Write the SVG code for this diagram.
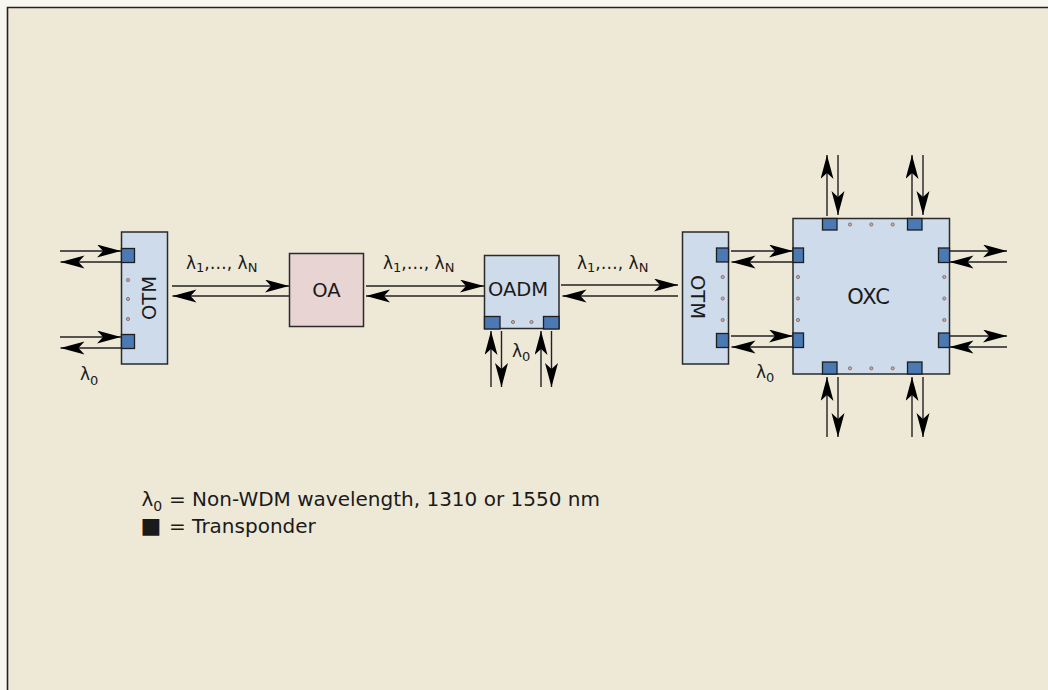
<svg xmlns="http://www.w3.org/2000/svg" width="1048" height="690" viewBox="0 0 1048 690">
<style>
.bg{fill:#eee8d7}
.box{fill:#cedbea;stroke:#2a2a2a;stroke-width:1.5}
.oa{fill:#e9d4d4;stroke:#2a2a2a;stroke-width:1.5}
.tp{fill:#4a79b4;stroke:#1e1e1e;stroke-width:1.3}
.dot{fill:#d9a3a0;stroke:#6a6a6a;stroke-width:0.8}
.ln{stroke:#222;stroke-width:1.4;fill:none}
.lbl{font-family:"DejaVu Sans",sans-serif;font-size:19.5px;fill:#1a1a1a}
.lam{font-family:"DejaVu Sans",sans-serif;font-size:17px;fill:#1a1a1a}
.leg{font-family:"DejaVu Sans",sans-serif;font-size:20px;fill:#1a1a1a}
.sub{font-size:13px}
</style>
<defs>
<marker id="ah" markerUnits="userSpaceOnUse" markerWidth="26" markerHeight="14" refX="24" refY="6.5" orient="auto">
<path d="M0,0 L24,6.5 L0,13 L6,6.5 z" fill="#000"/>
</marker>
</defs>
<rect x="0" y="0" width="1048" height="690" fill="#f7f6f1"/>
<rect class="bg" x="7.5" y="7.5" width="1045" height="690"/>
<path d="M7.5,690 L7.5,7.5 L1048,7.5" fill="none" stroke="#222" stroke-width="1.6"/>

<g id="connectors">
<line class="ln" x1="60" y1="251" x2="121" y2="251" marker-end="url(#ah)"/>
<line class="ln" x1="121" y1="262" x2="60.5" y2="262" marker-end="url(#ah)"/>
<line class="ln" x1="60" y1="337" x2="121" y2="337" marker-end="url(#ah)"/>
<line class="ln" x1="121" y1="348" x2="60.5" y2="348" marker-end="url(#ah)"/>
<line class="ln" x1="172" y1="286" x2="289" y2="286" marker-end="url(#ah)"/>
<line class="ln" x1="289" y1="296" x2="172.5" y2="296" marker-end="url(#ah)"/>
<line class="ln" x1="366" y1="286" x2="484" y2="286" marker-end="url(#ah)"/>
<line class="ln" x1="484" y1="296" x2="366" y2="296" marker-end="url(#ah)"/>
<line class="ln" x1="561" y1="285" x2="678" y2="285" marker-end="url(#ah)"/>
<line class="ln" x1="678" y1="296" x2="562.5" y2="296" marker-end="url(#ah)"/>
<line class="ln" x1="491" y1="387" x2="491" y2="331" marker-end="url(#ah)"/>
<line class="ln" x1="501.5" y1="331" x2="501.5" y2="387" marker-end="url(#ah)"/>
<line class="ln" x1="541" y1="387" x2="541" y2="331" marker-end="url(#ah)"/>
<line class="ln" x1="551.5" y1="331" x2="551.5" y2="387" marker-end="url(#ah)"/>
<line class="ln" x1="731" y1="251" x2="793" y2="251" marker-end="url(#ah)"/>
<line class="ln" x1="793" y1="262" x2="731.5" y2="262" marker-end="url(#ah)"/>
<line class="ln" x1="731" y1="336" x2="793" y2="336" marker-end="url(#ah)"/>
<line class="ln" x1="793" y1="347" x2="731.5" y2="347" marker-end="url(#ah)"/>
<line class="ln" x1="949" y1="251" x2="1007" y2="251" marker-end="url(#ah)"/>
<line class="ln" x1="1007" y1="262" x2="949.5" y2="262" marker-end="url(#ah)"/>
<line class="ln" x1="949" y1="336" x2="1007" y2="336" marker-end="url(#ah)"/>
<line class="ln" x1="1007" y1="347" x2="949.5" y2="347" marker-end="url(#ah)"/>
<line class="ln" x1="827" y1="216" x2="827" y2="155" marker-end="url(#ah)"/>
<line class="ln" x1="838" y1="155" x2="838" y2="215" marker-end="url(#ah)"/>
<line class="ln" x1="912" y1="216" x2="912" y2="155" marker-end="url(#ah)"/>
<line class="ln" x1="923" y1="155" x2="923" y2="215" marker-end="url(#ah)"/>
<line class="ln" x1="827" y1="437" x2="827" y2="377" marker-end="url(#ah)"/>
<line class="ln" x1="838" y1="377" x2="838" y2="437" marker-end="url(#ah)"/>
<line class="ln" x1="912" y1="437" x2="912" y2="377" marker-end="url(#ah)"/>
<line class="ln" x1="923" y1="377" x2="923" y2="437" marker-end="url(#ah)"/>
</g>

<g id="otm1">
<rect class="box" x="121.5" y="232" width="46" height="132"/>
<rect class="tp" x="121.5" y="248.5" width="13" height="14"/>
<rect class="tp" x="121.5" y="334.5" width="13" height="14"/>
<circle class="dot" cx="128" cy="280" r="1.6"/>
<circle class="dot" cx="128" cy="299" r="1.6"/>
<circle class="dot" cx="128" cy="319" r="1.6"/>
<text class="lbl" x="149.5" y="298" text-anchor="middle" dominant-baseline="central" transform="rotate(-90 149.5 298)">OTM</text>
</g>

<g id="oa">
<rect class="oa" x="289.5" y="253.5" width="74" height="73"/>
<text class="lbl" x="326.5" y="297" text-anchor="middle">OA</text>
</g>

<g id="oadm">
<rect class="box" x="484.5" y="255.5" width="74.5" height="73"/>
<rect class="tp" x="484.5" y="316.5" width="15.5" height="12.5"/>
<rect class="tp" x="543.5" y="316.5" width="15.5" height="12.5"/>
<circle class="dot" cx="513" cy="322" r="1.6"/>
<circle class="dot" cx="531.5" cy="322" r="1.6"/>
<text class="lbl" x="518" y="296" text-anchor="middle">OADM</text>
</g>

<g id="otm2">
<rect class="box" x="682.5" y="232" width="46" height="132"/>
<rect class="tp" x="716.5" y="248" width="12" height="14"/>
<rect class="tp" x="716.5" y="333.5" width="12" height="14"/>
<circle class="dot" cx="722.7" cy="277" r="1.6"/>
<circle class="dot" cx="722.7" cy="298.5" r="1.6"/>
<circle class="dot" cx="722.7" cy="320" r="1.6"/>
<text class="lbl" x="697.5" y="297" text-anchor="middle" dominant-baseline="central" transform="rotate(90 697.5 297)">OTM</text>
</g>

<g id="oxc">
<rect class="box" x="793" y="218.5" width="156.5" height="155.5"/>
<rect class="tp" x="822.5" y="218.5" width="14.5" height="11.5"/>
<rect class="tp" x="907.5" y="218.5" width="14.5" height="11.5"/>
<rect class="tp" x="822.5" y="362" width="14.5" height="12"/>
<rect class="tp" x="907.5" y="362" width="14.5" height="12"/>
<rect class="tp" x="793" y="248" width="10.5" height="14.5"/>
<rect class="tp" x="793" y="333" width="10.5" height="14.5"/>
<rect class="tp" x="938.5" y="248" width="11" height="14.5"/>
<rect class="tp" x="938.5" y="333" width="11" height="14.5"/>
<circle class="dot" cx="850" cy="224.5" r="1.6"/>
<circle class="dot" cx="871.3" cy="224.5" r="1.6"/>
<circle class="dot" cx="892.7" cy="224.5" r="1.6"/>
<circle class="dot" cx="850" cy="368.3" r="1.6"/>
<circle class="dot" cx="871.3" cy="368.3" r="1.6"/>
<circle class="dot" cx="892.7" cy="368.3" r="1.6"/>
<circle class="dot" cx="798" cy="277" r="1.6"/>
<circle class="dot" cx="798" cy="298.5" r="1.6"/>
<circle class="dot" cx="798" cy="320" r="1.6"/>
<circle class="dot" cx="944.3" cy="277" r="1.6"/>
<circle class="dot" cx="944.3" cy="298.5" r="1.6"/>
<circle class="dot" cx="944.3" cy="320" r="1.6"/>
<text class="lbl" x="868.5" y="304" text-anchor="middle" style="font-size:21px">OXC</text>
</g>

<g id="labels">
<text class="lam" x="186" y="269">λ<tspan class="sub" dy="3">1</tspan><tspan dy="-3">,…, λ</tspan><tspan class="sub" dy="3">N</tspan></text>
<text class="lam" x="383" y="269">λ<tspan class="sub" dy="3">1</tspan><tspan dy="-3">,…, λ</tspan><tspan class="sub" dy="3">N</tspan></text>
<text class="lam" x="577" y="269">λ<tspan class="sub" dy="3">1</tspan><tspan dy="-3">,…, λ</tspan><tspan class="sub" dy="3">N</tspan></text>
<text class="lam" x="80" y="380">λ<tspan class="sub" dy="5">0</tspan></text>
<text class="lam" x="512" y="357">λ<tspan class="sub" dy="4">0</tspan></text>
<text class="lam" x="756" y="378">λ<tspan class="sub" dy="4">0</tspan></text>
</g>

<g id="legend">
<text class="leg" x="141.5" y="505.5">λ<tspan class="sub" dy="5" style="font-size:14px">0</tspan><tspan x="169" dy="-5">= Non-WDM wavelength, 1310 or 1550 nm</tspan></text>
<text class="leg" x="140.5" y="532.5"><tspan style="font-size:22px">■</tspan><tspan x="169">= Transponder</tspan></text>
</g>
</svg>
